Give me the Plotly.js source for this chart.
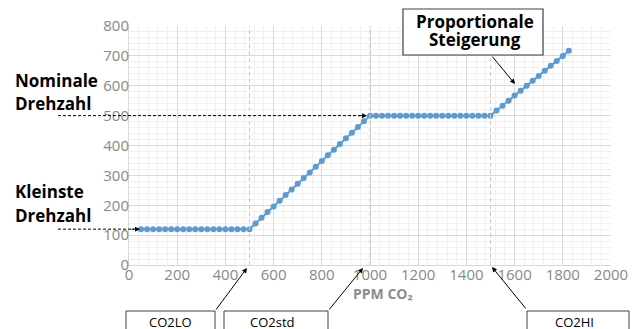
<!DOCTYPE html>
<html>
<head>
<meta charset="utf-8">
<script src="https://cdn.plot.ly/plotly-3.0.1.min.js"></script>
<style>html,body{margin:0;padding:0;background:#fff;}#chart{width:640px;height:329px;}</style>
</head>
<body>
<div id="chart"></div>
<script>
// ---- data ----
const ppm = [50,75,100,125,150,175,200,225,250,275,300,325,350,375,400,425,450,475,500,
  525,550,575,600,625,650,675,700,725,750,775,800,825,850,875,900,925,950,975,
  1000,1025,1050,1075,1100,1125,1150,1175,1200,1225,1250,1275,1300,1325,1350,1375,1400,1425,1450,1475,1500,
  1525,1550,1575,1600,1625,1650,1675,1700,1725,1750,1775,1800,1825];
const drehzahl = [120,120,120,120,120,120,120,120,120,120,120,120,120,120,120,120,120,120,120,
  139,158,177,196,215,234,253,272,291,310,329,348,367,386,405,424,443,462,481,
  500,500,500,500,500,500,500,500,500,500,500,500,500,500,500,500,500,500,500,500,500,
  517,533,550,567,583,600,617,633,650,667,683,700,717];
const thresholds = [500, 1000, 1500];
const thresholdLabels = ['CO2LO', 'CO2std', 'CO2HI'];
const minSpeed = 120;
const nomSpeed = 500;
const xTicks = [0,200,400,600,800,1000,1200,1400,1600,1800,2000];
const yTicks = [0,100,200,300,400,500,600,700,800];

// ---- geometry helpers (pixel -> paper) ----
const W = 640, H = 329, L = 129, R = 29, T = 26, B = 64;
const PW = W - L - R, PH = H - T - B;
const px = v => (v - L) / PW;
const py = v => (H - B - v) / PH;
const yMax = 800;
const yp = val => val / yMax;

const FONT = '"Open Sans", sans-serif';

const trace = {
  x: ppm, y: drehzahl, type: 'scatter', mode: 'lines+markers',
  line: {color: '#5B9BD5', width: 2},
  marker: {color: '#5B9BD5', size: 6},
  hoverinfo: 'skip'
};

const shapes = [];
thresholds.forEach(t => shapes.push({type: 'line', xref: 'x', yref: 'paper', x0: t, x1: t, y0: 0, y1: 1,
  layer: 'above', line: {color: '#c8c8c8', width: 1, dash: '4px,3px'}}));
// dashed horizontal arrows
shapes.push({type: 'line', xref: 'paper', yref: 'paper', x0: px(58), x1: px(134), y0: yp(minSpeed), y1: yp(minSpeed),
  line: {color: '#000', width: 1, dash: '3px,2px'}});
shapes.push({type: 'line', xref: 'paper', yref: 'paper', x0: px(58), x1: px(360), y0: yp(nomSpeed), y1: yp(nomSpeed),
  line: {color: '#000', width: 1, dash: '3px,2px'}});
// Proportionale box
shapes.push({type: 'rect', xref: 'paper', yref: 'paper', x0: px(403), x1: px(543), y0: py(55), y1: py(9),
  fillcolor: '#fff', line: {color: '#404040', width: 1.2}});
// bottom boxes
const boxes = [[126, 215], [224, 328], [527, 629]];
boxes.forEach(b => shapes.push({type: 'rect', xref: 'paper', yref: 'paper', x0: px(b[0]), x1: px(b[1]), y0: py(345), y1: py(311),
  fillcolor: '#fff', line: {color: '#404040', width: 1}}));

const ann = [];
function txt(t, cx, cy, size, isBold, color, xanchor) {
  ann.push({xref: 'paper', yref: 'paper', x: px(cx), y: py(cy), xanchor: xanchor || 'center', yanchor: 'middle',
    text: isBold ? '<b>' + t + '</b>' : t, showarrow: false, borderpad: 0,
    font: {family: FONT, size: size, color: color || '#000'}});
}
function arrow(hx, hy, tx, ty) {
  ann.push({xref: 'paper', yref: 'paper', x: px(hx), y: py(hy), ax: tx - hx, ay: ty - hy, text: '',
    showarrow: true, arrowhead: 2, arrowsize: 1, arrowwidth: 1, arrowcolor: '#000'});
}
txt('Nominale', 14, 80, 17, true, '#000', 'left');
txt('Drehzahl', 14, 104, 17, true, '#000', 'left');
txt('Kleinste', 14, 191, 17, true, '#000', 'left');
txt('Drehzahl', 14, 215, 17, true, '#000', 'left');
txt('Proportionale', 474.5, 22, 17, true);
txt('Steigerung', 474.5, 39.5, 17, true);
txt('PPM CO₂', 383, 293, 14, true, '#8c8c8c');
txt(thresholdLabels[0], 170, 322, 13, false);
txt(thresholdLabels[1], 272, 322, 13, false);
txt(thresholdLabels[2], 574, 322, 13, false);
// arrows
arrow(247, 268, 215, 311);
arrow(363, 268, 328, 311);
arrow(492, 267, 527, 310);
arrow(515, 84, 491, 55);
arrow(140, H - B - yp(minSpeed) * PH, 130, H - B - yp(minSpeed) * PH);
arrow(367, H - B - yp(nomSpeed) * PH, 357, H - B - yp(nomSpeed) * PH);

const layout = {
  width: W, height: H,
  margin: {l: L, r: R, t: T, b: B, pad: 0},
  paper_bgcolor: '#fff', plot_bgcolor: '#fff',
  showlegend: false,
  xaxis: {range: [0, 2000], tickvals: xTicks, ticktext: xTicks.map(String), showgrid: true, gridcolor: '#d9d9d9', gridwidth: 1,
    minor: {dtick: 40, showgrid: true, gridcolor: '#f0f0f0', gridwidth: 1},
    zeroline: false, showline: true, linecolor: '#d9d9d9', linewidth: 1, ticks: '',
    tickfont: {family: FONT, size: 15, color: '#888'}, ticklabelstandoff: -4, fixedrange: true},
  yaxis: {range: [0, 800], tickvals: yTicks, ticktext: yTicks.map(String), showgrid: true, gridcolor: '#d9d9d9', gridwidth: 1,
    minor: {dtick: 20, showgrid: true, gridcolor: '#f0f0f0', gridwidth: 1},
    zeroline: false, showline: true, linecolor: '#d9d9d9', linewidth: 1, ticks: '',
    tickfont: {family: FONT, size: 15, color: '#888'}, ticklabelstandoff: -4, fixedrange: true},
  shapes: shapes,
  annotations: ann
};
Plotly.newPlot('chart', [trace], layout, {displayModeBar: false, staticPlot: true});
</script>
</body>
</html>
